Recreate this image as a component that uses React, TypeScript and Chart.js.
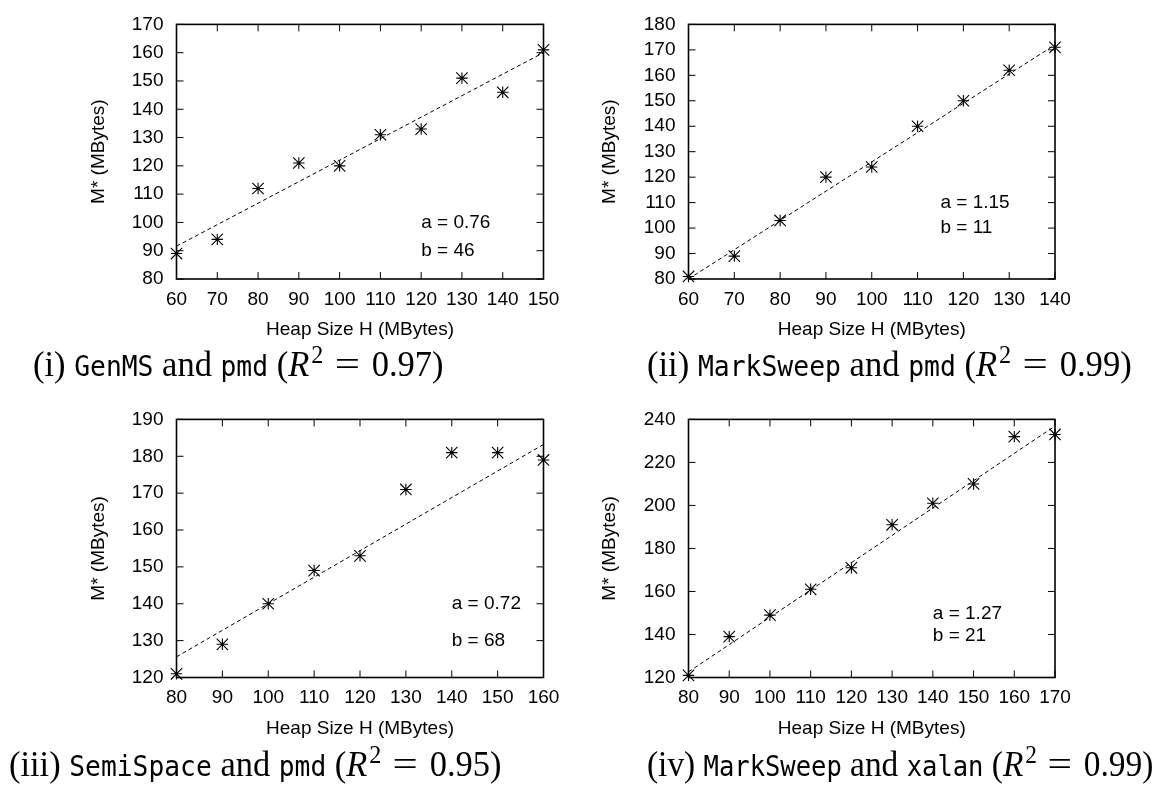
import React, { useEffect, useLayoutEffect, useRef } from "react";
import { Chart, registerables } from "chart.js";

Chart.register(...registerables);

// ---------------- data ----------------
// (i) GenMS and pmd
const heapGenMSPmd = [60, 70, 80, 90, 100, 110, 120, 130, 140, 150];
const mStarGenMSPmd = [89, 94, 112, 121, 120, 131, 133, 151, 146, 161];
const fitHeapGenMSPmd = [60, 150];
const fitMStarGenMSPmd = [91.6, 160];
const xTicksGenMSPmd = [60, 70, 80, 90, 100, 110, 120, 130, 140, 150];
const yTicksGenMSPmd = [80, 90, 100, 110, 120, 130, 140, 150, 160, 170];
const notesGenMSPmd = ["a = 0.76", "b = 46"];

// (ii) MarkSweep and pmd
const heapMarkSweepPmd = [60, 70, 80, 90, 100, 110, 120, 130, 140];
const mStarMarkSweepPmd = [81, 89, 103, 120, 124, 140, 150, 162, 171];
const fitHeapMarkSweepPmd = [60, 140];
const fitMStarMarkSweepPmd = [80, 172];
const xTicksMarkSweepPmd = [60, 70, 80, 90, 100, 110, 120, 130, 140];
const yTicksMarkSweepPmd = [80, 90, 100, 110, 120, 130, 140, 150, 160, 170, 180];
const notesMarkSweepPmd = ["a = 1.15", "b = 11"];

// (iii) SemiSpace and pmd
const heapSemiSpacePmd = [80, 90, 100, 110, 120, 130, 140, 150, 160];
const mStarSemiSpacePmd = [121, 129, 140, 149, 153, 171, 181, 181, 179];
const fitHeapSemiSpacePmd = [80, 160];
const fitMStarSemiSpacePmd = [125.6, 183.2];
const xTicksSemiSpacePmd = [80, 90, 100, 110, 120, 130, 140, 150, 160];
const yTicksSemiSpacePmd = [120, 130, 140, 150, 160, 170, 180, 190];
const notesSemiSpacePmd = ["a = 0.72", "b = 68"];

// (iv) MarkSweep and xalan
const heapMarkSweepXalan = [80, 90, 100, 110, 120, 130, 140, 150, 160, 170];
const mStarMarkSweepXalan = [121, 139, 149, 161, 171, 191, 201, 210, 232, 233];
const fitHeapMarkSweepXalan = [80, 170];
const fitMStarMarkSweepXalan = [122.6, 236.9];
const xTicksMarkSweepXalan = [80, 90, 100, 110, 120, 130, 140, 150, 160, 170];
const yTicksMarkSweepXalan = [120, 140, 160, 180, 200, 220, 240];
const notesMarkSweepXalan = ["a = 1.27", "b = 21"];

const xAxisTitle = "Heap Size H (MBytes)";
const yAxisTitle = "M* (MBytes)";

// captions: [label, collector, benchmark, R^2]
const captionI = ["(i)", "GenMS", "pmd", "0.97"];
const captionII = ["(ii)", "MarkSweep", "pmd", "0.99"];
const captionIII = ["(iii)", "SemiSpace", "pmd", "0.95"];
const captionIV = ["(iv)", "MarkSweep", "xalan", "0.99"];

// ---------------- styling / layout ----------------
const SANS = '"Liberation Sans", Arial, Helvetica, sans-serif';
const SERIF = '"Liberation Serif", "Times New Roman", serif';
const MONO = '"DejaVu Sans Mono", "Liberation Mono", monospace';
const FONT_SIZE = 19;

const frameTicksPlugin = {
  id: "gpFrame",
  beforeDatasetsDraw(chart: any) {
    const { ctx, chartArea } = chart;
    const { left, right, top, bottom } = chartArea;
    const xs = chart.scales.x;
    const ys = chart.scales.y;
    const L = 7;
    ctx.save();
    ctx.strokeStyle = "#000";
    ctx.lineWidth = 1;
    ctx.beginPath();
    xs.ticks.forEach((t: any) => {
      const px = xs.getPixelForValue(t.value);
      ctx.moveTo(px, bottom);
      ctx.lineTo(px, bottom - L);
      ctx.moveTo(px, top);
      ctx.lineTo(px, top + L);
    });
    ys.ticks.forEach((t: any) => {
      const py = ys.getPixelForValue(t.value);
      ctx.moveTo(left, py);
      ctx.lineTo(left + L, py);
      ctx.moveTo(right, py);
      ctx.lineTo(right - L, py);
    });
    ctx.stroke();
    ctx.lineWidth = 1.6;
    ctx.strokeRect(left, top, right - left, bottom - top);
    ctx.restore();
  },
};

const starPlugin = {
  id: "gpStars",
  afterDatasetsDraw(chart: any) {
    const meta = chart.getDatasetMeta(0);
    const ctx = chart.ctx;
    const s = 5.7;
    ctx.save();
    ctx.strokeStyle = "#000";
    ctx.lineWidth = 1.1;
    ctx.beginPath();
    meta.data.forEach((pt: any) => {
      const x = pt.x;
      const y = pt.y;
      ctx.moveTo(x - s, y);
      ctx.lineTo(x + s, y);
      ctx.moveTo(x, y - s);
      ctx.lineTo(x, y + s);
      ctx.moveTo(x - s, y - s);
      ctx.lineTo(x + s, y + s);
      ctx.moveTo(x - s, y + s);
      ctx.lineTo(x + s, y - s);
    });
    ctx.stroke();
    ctx.restore();
  },
};

const notesPlugin = {
  id: "gpNotes",
  afterDatasetsDraw(chart: any, _args: any, opts: any) {
    const items = (opts && opts.items) || [];
    const ctx = chart.ctx;
    const xs = chart.scales.x;
    const ys = chart.scales.y;
    ctx.save();
    ctx.fillStyle = "#000";
    ctx.font = `${FONT_SIZE}px ${SANS}`;
    ctx.textAlign = "left";
    ctx.textBaseline = "middle";
    items.forEach((it: any) => {
      ctx.fillText(it.text, xs.getPixelForValue(it.x), ys.getPixelForValue(it.y));
    });
    ctx.restore();
  },
};

type Box = {
  left: number;
  top: number;
  width: number;
  height: number;
  chartLeft: number;
  chartRight: number;
  chartTop: number;
  chartBottom: number;
  yTitleX: number;
  xTitleY: number;
  notePos: number[][];
};

type PanelProps = {
  heap: number[];
  mStar: number[];
  fitHeap: number[];
  fitMStar: number[];
  xTicks: number[];
  yTicks: number[];
  notes: string[];
  box: Box;
};

function Panel(props: PanelProps) {
  const ref = useRef<HTMLCanvasElement>(null);
  const b = props.box;

  useEffect(() => {
    if (!ref.current) return;
    const lh = FONT_SIZE * 1.2;
    const font = { family: SANS, size: FONT_SIZE, lineHeight: 1.2 };
    const padLeft = b.yTitleX - lh / 2;
    const yAxisW = b.chartLeft - padLeft;
    const padRight = b.width - b.chartRight;
    const xAxisH = b.height - b.chartBottom;
    const xTitlePad = b.height - b.xTitleY - lh / 2;

    const points = props.heap.map((h, i) => ({ x: h, y: props.mStar[i] }));
    const fit = props.fitHeap.map((h, i) => ({ x: h, y: props.fitMStar[i] }));
    const noteItems = props.notes.map((t, i) => ({
      text: t,
      x: b.notePos[i][0],
      y: b.notePos[i][1],
    }));

    const chart = new Chart(ref.current, {
      type: "scatter",
      data: {
        datasets: [
          {
            type: "scatter",
            data: points,
            pointRadius: 0,
            pointHoverRadius: 0,
            borderColor: "#000",
            backgroundColor: "#000",
          } as any,
          {
            type: "line",
            data: fit,
            borderColor: "#000",
            borderWidth: 1,
            borderDash: [4, 3],
            pointRadius: 0,
            fill: false,
            tension: 0,
          } as any,
        ],
      },
      options: {
        animation: false,
        responsive: false,
        devicePixelRatio: 1,
        events: [],
        layout: {
          padding: { left: padLeft, right: padRight, top: b.chartTop, bottom: 0 },
        },
        plugins: {
          legend: { display: false },
          tooltip: { enabled: false },
          gpNotes: { items: noteItems },
        } as any,
        scales: {
          x: {
            type: "linear",
            min: props.xTicks[0],
            max: props.xTicks[props.xTicks.length - 1],
            grid: { display: false, drawTicks: false },
            border: { display: false },
            ticks: {
              color: "#000",
              font,
              padding: 9,
              autoSkip: false,
              maxRotation: 0,
              callback: (v: any) => String(v),
            },
            title: {
              display: true,
              text: xAxisTitle,
              color: "#000",
              font,
              padding: { top: 0, bottom: xTitlePad },
            },
            afterBuildTicks: (s: any) => {
              s.ticks = props.xTicks.map((v) => ({ value: v }));
            },
            afterFit: (s: any) => {
              s.height = xAxisH;
            },
          },
          y: {
            type: "linear",
            min: props.yTicks[0],
            max: props.yTicks[props.yTicks.length - 1],
            grid: { display: false, drawTicks: false },
            border: { display: false },
            ticks: {
              color: "#000",
              font,
              padding: 13,
              autoSkip: false,
              callback: (v: any) => String(v),
            },
            title: {
              display: true,
              text: yAxisTitle,
              color: "#000",
              font,
              padding: { top: 0, bottom: 0 },
            },
            afterBuildTicks: (s: any) => {
              s.ticks = props.yTicks.map((v) => ({ value: v }));
            },
            afterFit: (s: any) => {
              s.width = yAxisW;
            },
          },
        },
      } as any,
      plugins: [frameTicksPlugin, starPlugin, notesPlugin],
    });
    return () => chart.destroy();
  }, []);

  return (
    <canvas
      ref={ref}
      width={b.width}
      height={b.height}
      style={{
        position: "absolute",
        left: b.left,
        top: b.top,
        width: b.width,
        height: b.height,
        display: "block",
      }}
    />
  );
}

const CAP_SIZE = 36;
const CAP_MONO = 27.5;

function Caption(props: { parts: string[]; left: number; right: number; baseline: number }) {
  const [label, gc, bench, r2] = props.parts;
  const ref = useRef<HTMLDivElement>(null);
  useLayoutEffect(() => {
    const el = ref.current;
    if (!el) return;
    el.style.transform = "none";
    const w = el.getBoundingClientRect().width;
    const target = props.right - props.left;
    if (w > 0) el.style.transform = `scaleX(${target / w})`;
  }, []);
  return (
    <div
      ref={ref}
      style={{
        position: "absolute",
        left: props.left,
        top: props.baseline - 0.8375 * CAP_SIZE,
        fontFamily: SERIF,
        fontSize: CAP_SIZE,
        lineHeight: `${CAP_SIZE}px`,
        whiteSpace: "nowrap",
        color: "#000",
        transformOrigin: "0 0",
        display: "inline-block",
      }}
    >
      <span>{label} </span>
      <span style={{ fontFamily: MONO, fontSize: CAP_MONO }}>{gc}</span>
      <span> and </span>
      <span style={{ fontFamily: MONO, fontSize: CAP_MONO }}>{bench}</span>
      <span> (</span>
      <span style={{ fontStyle: "italic" }}>R</span>
      <span
        style={{
          fontSize: "0.7em",
          position: "relative",
          top: "-0.5em",
          lineHeight: 0,
          marginLeft: 2,
        }}
      >
        2
      </span>
      <span style={{ margin: "0 0.42em", display: "inline-block", transform: "scaleX(1.3)" }}>=</span>
      <span>{r2})</span>
    </div>
  );
}

const col1 = { left: 0, width: 580, chartLeft: 176.5, chartRight: 543.5, yTitleX: 98.5 };
const col2 = { left: 580, width: 581, chartLeft: 108.5, chartRight: 475, yTitleX: 29.7 };
const row1 = { top: 0, height: 345, chartTop: 12.5, chartBottom: 279, xTitleY: 330 };
const row2 = { top: 395, height: 350, chartTop: 15, chartBottom: 282.5, xTitleY: 333.5 };

export default function App() {
  return (
    <div
      style={{
        position: "absolute",
        left: 0,
        top: 0,
        width: 1161,
        height: 785,
        overflow: "hidden",
        background: "#fff",
      }}
    >
      <Panel
        heap={heapGenMSPmd}
        mStar={mStarGenMSPmd}
        fitHeap={fitHeapGenMSPmd}
        fitMStar={fitMStarGenMSPmd}
        xTicks={xTicksGenMSPmd}
        yTicks={yTicksGenMSPmd}
        notes={notesGenMSPmd}
        box={{ ...col1, ...row1, notePos: [[120, 100], [120, 90]] }}
      />
      <Panel
        heap={heapMarkSweepPmd}
        mStar={mStarMarkSweepPmd}
        fitHeap={fitHeapMarkSweepPmd}
        fitMStar={fitMStarMarkSweepPmd}
        xTicks={xTicksMarkSweepPmd}
        yTicks={yTicksMarkSweepPmd}
        notes={notesMarkSweepPmd}
        box={{ ...col2, ...row1, notePos: [[115, 110], [115, 100]] }}
      />
      <Panel
        heap={heapSemiSpacePmd}
        mStar={mStarSemiSpacePmd}
        fitHeap={fitHeapSemiSpacePmd}
        fitMStar={fitMStarSemiSpacePmd}
        xTicks={xTicksSemiSpacePmd}
        yTicks={yTicksSemiSpacePmd}
        notes={notesSemiSpacePmd}
        box={{ ...col1, ...row2, notePos: [[140, 140], [140, 130]] }}
      />
      <Panel
        heap={heapMarkSweepXalan}
        mStar={mStarMarkSweepXalan}
        fitHeap={fitHeapMarkSweepXalan}
        fitMStar={fitMStarMarkSweepXalan}
        xTicks={xTicksMarkSweepXalan}
        yTicks={yTicksMarkSweepXalan}
        notes={notesMarkSweepXalan}
        box={{ ...col2, ...row2, notePos: [[140, 149.5], [140, 139.5]] }}
      />
      <Caption parts={captionI} left={33} right={443.5} baseline={376} />
      <Caption parts={captionII} left={647} right={1131.7} baseline={376} />
      <Caption parts={captionIII} left={9.3} right={501.7} baseline={775.7} />
      <Caption parts={captionIV} left={647} right={1153.3} baseline={775.7} />
    </div>
  );
}
